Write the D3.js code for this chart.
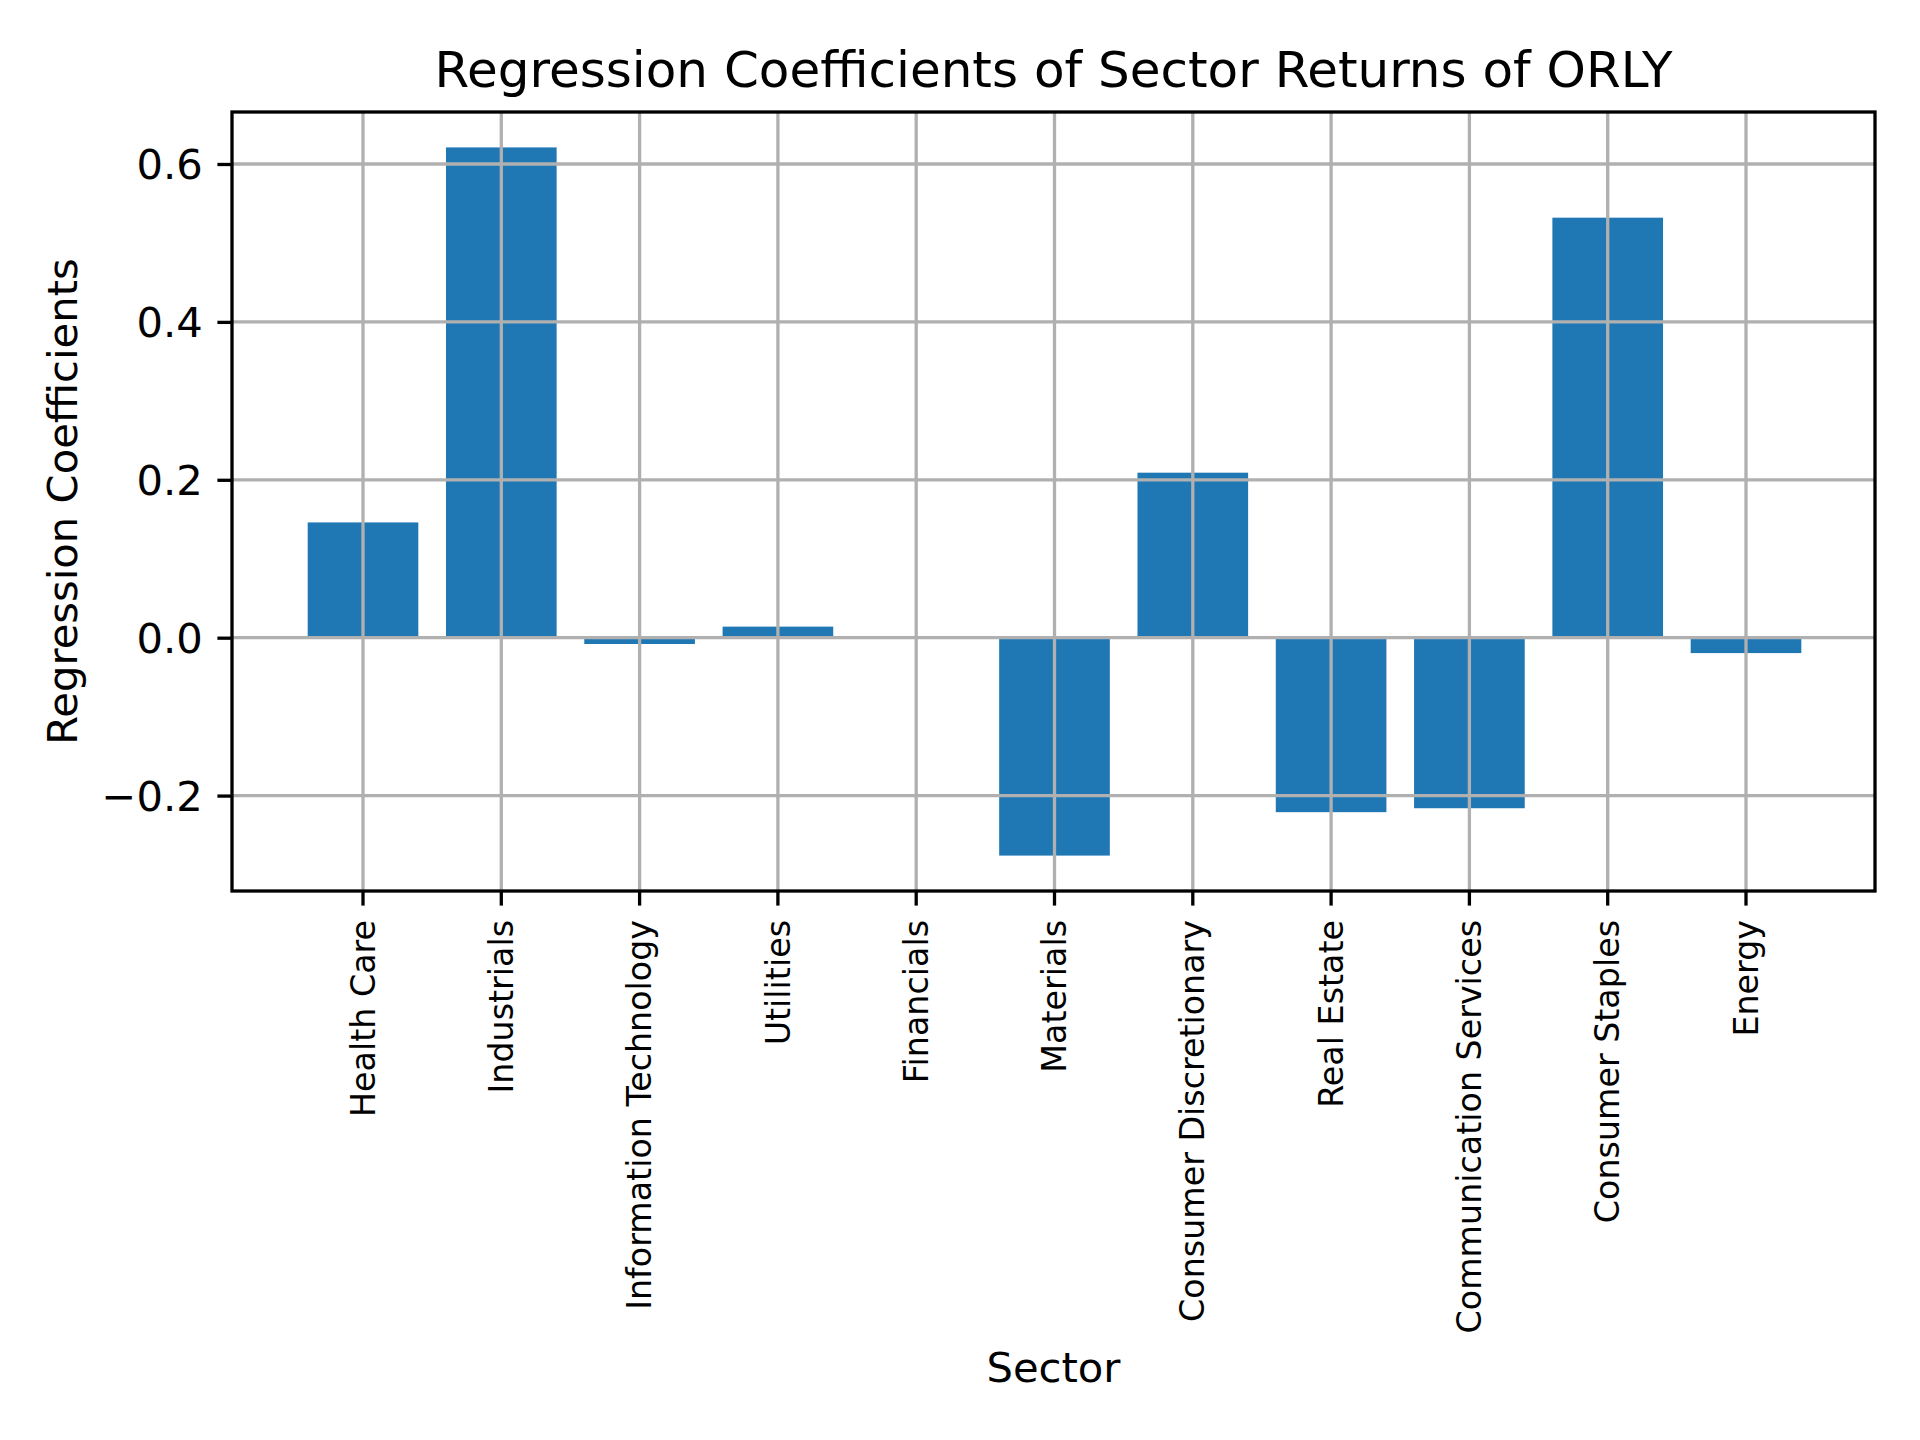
<!DOCTYPE html>
<html>
<head>
<meta charset="utf-8">
<script src="https://cdn.jsdelivr.net/npm/d3@7"></script>
<style>
  body { margin: 0; background: #fff; }
  text { font-family: "DejaVu Sans", sans-serif; fill: #000; }
</style>
</head>
<body>
<div class="chart"></div>
<script>
const sectors = ['Health Care', 'Industrials', 'Information Technology', 'Utilities', 'Financials',
    'Materials', 'Consumer Discretionary', 'Real Estate', 'Communication Services', 'Consumer Staples', 'Energy']
const coefs = [0.146, 0.621, -0.008, 0.014, 0.0, -0.276, 0.209, -0.221, -0.216, 0.532, -0.0195]
const yTicks = [-0.2, 0.0, 0.2, 0.4, 0.6]

const width = 1920, height = 1440
const m = { left: 232, right: 1875, top: 112, bottom: 891 }
const lw = 3.3

const svg = d3.select('.chart')
    .append('svg')
    .attr('width', width)
    .attr('height', height)

// matplotlib style 5% margins
const lo = d3.min(coefs), hi = d3.max(coefs)
const pad = (hi - lo) * 0.05

const y = d3.scaleLinear()
    .domain([lo - pad, hi + pad])
    .range([m.bottom, m.top])

const x = d3.scaleBand()
    .domain(sectors)
    .range([m.left, m.right])
    .paddingInner(0.2)
    .paddingOuter(0.54)

// bars
svg.selectAll('rect.bar')
    .data(sectors)
    .enter().append('rect')
    .attr('class', 'bar')
    .attr('x', d => x(d) + 1)
    .attr('width', x.bandwidth())
    .attr('y', (d, i) => y(Math.max(0, coefs[i])))
    .attr('height', (d, i) => Math.abs(y(coefs[i]) - y(0)))
    .attr('fill', '#1f77b4')

// grid over bars
svg.append('g')
    .selectAll('line')
    .data(yTicks)
    .enter().append('line')
    .attr('x1', m.left).attr('x2', m.right)
    .attr('y1', d => y(d)).attr('y2', d => y(d))
    .attr('stroke', '#b0b0b0').attr('stroke-width', lw)

svg.append('g')
    .selectAll('line')
    .data(sectors)
    .enter().append('line')
    .attr('x1', d => x(d) + 1 + x.bandwidth() / 2).attr('x2', d => x(d) + 1 + x.bandwidth() / 2)
    .attr('y1', m.top).attr('y2', m.bottom)
    .attr('stroke', '#b0b0b0').attr('stroke-width', lw)

const fmt = d => (d < 0 ? '\u2212' : '') + d3.format('.1f')(Math.abs(d))

const yAxis = svg.append('g')
    .attr('transform', `translate(${m.left},0)`)
    .call(d3.axisLeft(y).tickValues(yTicks).tickFormat(fmt).tickSize(14.6).tickPadding(14.6))
yAxis.select('.domain').remove()
yAxis.selectAll('line').attr('stroke', '#000').attr('stroke-width', lw)
yAxis.selectAll('text').attr('font-size', 41.7).attr('dy', '0.35em')
    .style('font-family', '"DejaVu Sans", sans-serif')

const xAxis = svg.append('g')
    .attr('transform', `translate(1,${m.bottom})`)
    .call(d3.axisBottom(x).tickSize(14.6).tickPadding(0))
xAxis.select('.domain').remove()
xAxis.selectAll('line').attr('stroke', '#000').attr('stroke-width', lw)
xAxis.selectAll('text')
    .attr('font-size', 33.3)
    .style('font-family', '"DejaVu Sans", sans-serif')
    .attr('text-anchor', 'end')
    .attr('y', 0).attr('dy', '0.35em')
    .attr('transform', 'translate(0,29) rotate(-90)')

// frame
svg.append('rect')
    .attr('x', m.left).attr('y', m.top)
    .attr('width', m.right - m.left).attr('height', m.bottom - m.top)
    .attr('fill', 'none').attr('stroke', '#000').attr('stroke-width', lw)

svg.append('text')
    .attr('x', (m.left + m.right) / 2).attr('y', 87)
    .attr('text-anchor', 'middle').attr('font-size', 50)
    .text('Regression Coefficients of Sector Returns of ORLY')

svg.append('text')
    .attr('x', (m.left + m.right) / 2).attr('y', 1382)
    .attr('text-anchor', 'middle').attr('font-size', 41.7)
    .text('Sector')

svg.append('text')
    .attr('transform', `translate(77,${(m.top + m.bottom) / 2}) rotate(-90)`)
    .attr('text-anchor', 'middle').attr('font-size', 41.7)
    .text('Regression Coefficients')
</script>
</body>
</html>
